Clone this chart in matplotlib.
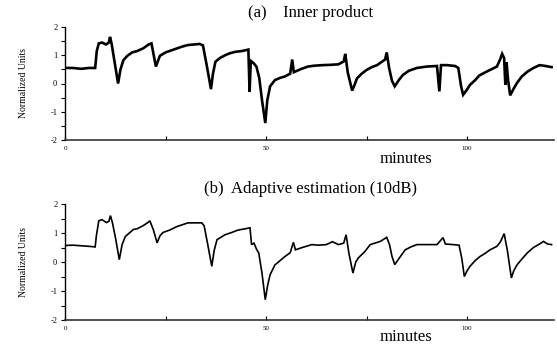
import matplotlib
matplotlib.use("Agg")
import matplotlib.pyplot as plt
from matplotlib.ticker import FixedLocator

plt.rcParams["axes.unicode_minus"] = False

# ---------------- data ----------------
minutes_a = [0, 2, 4, 6, 7.5, 7.9, 8.4, 9.2, 10.2, 10.9, 11.2, 11.6, 12.4, 13.2, 13.8,
             14.5, 15.5, 16.7, 18.0, 19.5, 20.8, 21.5, 22.6, 23.6, 25.0, 27.0, 29.0,
             30.5, 32.0, 33.5, 34.3, 35.3, 36.3, 36.8, 37.4, 38.5, 39.8, 41.0, 42.3,
             44.0, 45.6, 45.9, 46.2, 46.9, 47.6, 48.3, 49.0, 49.8, 50.3, 51.0, 52.2,
             53.5, 54.7, 56.0, 56.5, 56.9, 58.5, 60.4, 62.0, 64.0, 66.0, 68.0, 69.3,
             69.7, 70.3, 71.4, 72.0, 72.6, 73.8, 75.0, 76.3, 77.6, 78.6, 79.6, 80.0,
             80.6, 81.3, 82.0, 83.0, 84.0, 85.5, 87.5, 90.0, 92.5, 93.1, 93.5, 95.0,
             97.0, 97.8, 98.5, 99.0, 99.8, 100.7, 102.0, 103.0, 104.3, 105.7, 107.4,
             108.2, 108.7, 109.2, 109.5, 109.8, 110.2, 110.7, 111.5, 112.4, 113.6,
             115.0, 116.5, 118.0, 119.5, 121.0]
values_a = [0.55, 0.55, 0.52, 0.55, 0.55, 1.15, 1.42, 1.45, 1.38, 1.45, 1.65, 1.4, 0.7, 0.0, 0.5,
            0.82, 0.98, 1.1, 1.15, 1.25, 1.38, 1.42, 0.6, 0.98, 1.1, 1.2, 1.3,
            1.36, 1.38, 1.4, 1.35, 0.6, -0.2, 0.35, 0.77, 0.9, 1.0, 1.07, 1.12,
            1.15, 1.2, -0.3, 0.8, 0.72, 0.6, 0.2, -0.6, -1.4, -0.6, -0.1, 0.12,
            0.2, 0.25, 0.35, 0.85, 0.4, 0.5, 0.6, 0.63, 0.65, 0.66, 0.68, 0.78,
            1.05, 0.4, -0.25, -0.05, 0.18, 0.35, 0.48, 0.58, 0.65, 0.75, 0.85, 1.1,
            0.55, 0.1, -0.1, 0.12, 0.3, 0.45, 0.55, 0.6, 0.62, -0.28, 0.65, 0.65,
            0.62, 0.55, -0.1, -0.4, -0.25, -0.05, 0.12, 0.28, 0.38, 0.48, 0.6,
            0.85, 1.05, 0.9, -0.05, 0.75, 0.1, -0.42, -0.2, 0.02, 0.25,
            0.42, 0.55, 0.65, 0.62, 0.58]

minutes_b = [0, 2, 4, 6, 7.5, 7.8, 8.4, 9.2, 10.3, 10.9, 11.3, 11.8, 12.6, 13.5, 14.2,
             15.0, 16.0, 17.0, 18.0, 19.4, 20.5, 21.1, 22.0, 22.9, 23.6, 24.4, 26.0,
             27.8, 29.5, 30.6, 32.5, 34.0, 34.6, 35.5, 36.5, 37.1, 37.8, 39.8, 41.5,
             43.0, 45.0, 46.0, 46.4, 47.0, 47.6, 48.2, 49.0, 49.8, 50.4, 51.0, 52.2,
             53.5, 54.7, 56.0, 56.8, 57.3, 59.0, 61.4, 63.0, 65.0, 66.5, 68.0, 69.3,
             69.9, 70.6, 71.6, 72.3, 73.0, 74.5, 75.9, 78.4, 80.0, 80.7, 81.3, 82.0,
             83.2, 84.6, 86.0, 87.5, 90.0, 92.5, 94.0, 94.6, 96.5, 98.0, 98.7, 99.3,
             100.0, 100.7, 102.0, 103.2, 104.5, 105.7, 107.4, 108.3, 109.2, 110.0,
             111.0, 111.6, 112.4, 113.6, 115.0, 116.5, 118.0, 119.0, 120.0, 121.0]
values_b = [0.57, 0.58, 0.56, 0.54, 0.52, 0.9, 1.42, 1.46, 1.36, 1.4, 1.6, 1.35, 0.8, 0.08, 0.6,
            0.88, 1.0, 1.12, 1.15, 1.25, 1.35, 1.42, 1.1, 0.66, 0.9, 1.02, 1.1,
            1.22, 1.3, 1.35, 1.35, 1.35, 1.25, 0.6, -0.15, 0.4, 0.77, 0.94, 1.02,
            1.1, 1.15, 1.18, 0.6, 0.65, 0.45, 0.3, -0.4, -1.3, -0.8, -0.44, -0.1,
            0.05, 0.19, 0.32, 0.68, 0.42, 0.5, 0.6, 0.58, 0.6, 0.7, 0.6, 0.65,
            0.94, 0.3, -0.38, 0.0, 0.15, 0.35, 0.6, 0.71, 0.85, 0.6, 0.2, -0.09,
            0.15, 0.42, 0.52, 0.6, 0.6, 0.6, 0.84, 0.62, 0.6, 0.58, 0.1, -0.5,
            -0.3, -0.15, 0.05, 0.19, 0.3, 0.42, 0.54, 0.7, 0.98, 0.4,
            -0.55, -0.3, -0.1, 0.1, 0.32, 0.5, 0.62, 0.71, 0.62, 0.6]

x_major = [0, 50, 100]
x_minor = [25, 75]
y_labels = [-2, -1, 0, 1, 2]
y_minor = [-1.5, -0.5, 0.5, 1.5]

titles = ["(a)    Inner product", "(b)  Adaptive estimation (10dB)"]
xlabel = "minutes"
ylabel = "Normalized Units"

assert len(minutes_a) == len(values_a)
assert len(minutes_b) == len(values_b)

# ---------------- figure ----------------
W, H = 557, 350
fig = plt.figure(figsize=(W / 100, H / 100), dpi=100)
serif = "Liberation Serif"


def make_axes(top_px, bot_px, x, y, lw):
    ax = fig.add_axes([65 / W, 1 - bot_px / H, (554 - 65) / W, (bot_px - top_px) / H])
    ax.plot(x, y, color="black", lw=lw, solid_joinstyle="miter")
    ax.set_xlim(0, 121.6)
    ax.set_ylim(-2, 2)
    for s in ("top", "right"):
        ax.spines[s].set_visible(False)
    ax.spines["left"].set_linewidth(1.0)
    ax.spines["bottom"].set_linewidth(1.2)
    ax.spines["bottom"].set_color("#333333")
    ax.xaxis.set_major_locator(FixedLocator(x_major))
    ax.xaxis.set_minor_locator(FixedLocator(x_minor))
    ax.yaxis.set_major_locator(FixedLocator(y_labels))
    ax.yaxis.set_minor_locator(FixedLocator(y_minor))
    ax.tick_params(axis="x", which="both", direction="in", length=3, width=0.8,
                   labelsize=5, pad=4)
    ax.tick_params(axis="y", which="both", direction="out", length=3, width=0.8,
                   labelsize=6, pad=2.5)
    for lab in ax.get_xticklabels() + ax.get_yticklabels():
        lab.set_fontfamily(serif)
    ax.set_ylabel(ylabel, fontsize=7, family=serif, labelpad=16)
    return ax


axA = make_axes(27, 140, minutes_a, values_a, 1.9)
axB = make_axes(204, 320, minutes_b, values_b, 1.2)

fig.text(311 / W, 1 - 13 / H, titles[0], ha="center", va="center", fontsize=12, family=serif)
fig.text(311 / W, 1 - 189 / H, titles[1], ha="center", va="center", fontsize=12, family=serif)
fig.text(406 / W, 1 - 159 / H, xlabel, ha="center", va="center", fontsize=12, family=serif)
fig.text(406 / W, 1 - 337 / H, xlabel, ha="center", va="center", fontsize=12, family=serif)

fig.savefig("out.png", dpi=100, facecolor="white")
